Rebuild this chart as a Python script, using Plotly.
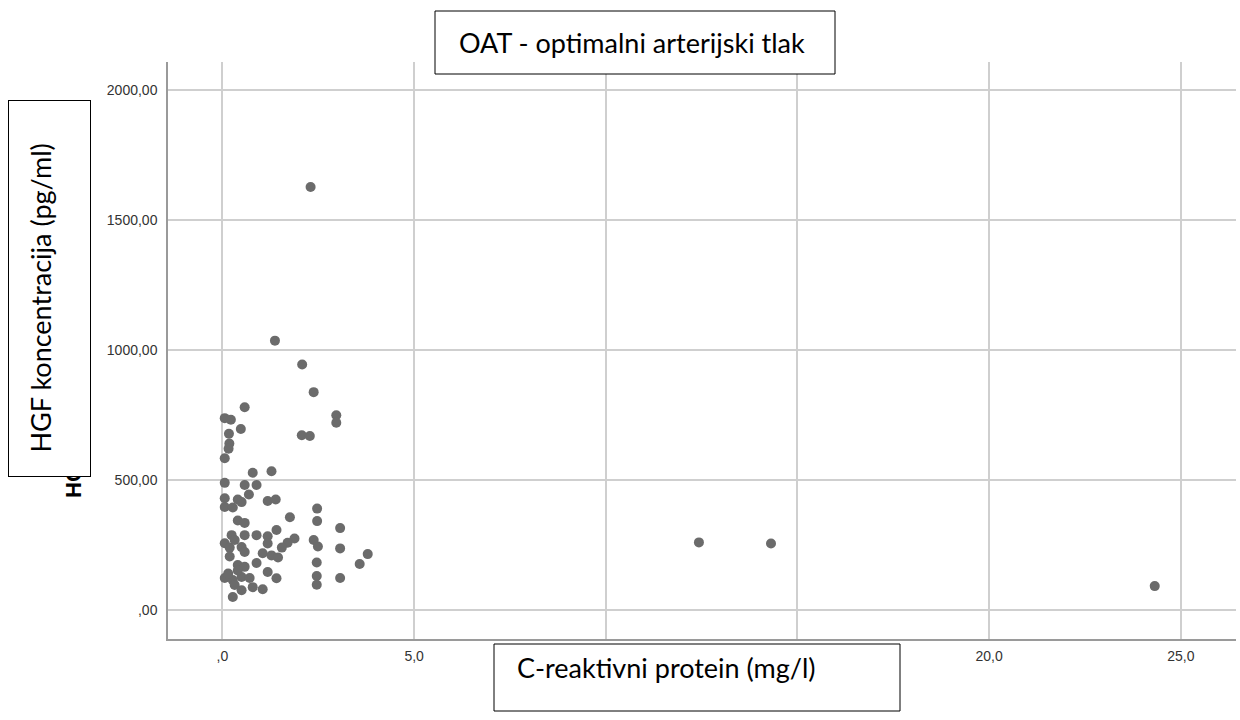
import plotly.graph_objects as go

# C-reaktivni protein (mg/l) vs HGF koncentracija (pg/ml), group OAT
crp = [
    2.30, 1.37, 2.08, 2.38, 0.58, 0.06, 0.22, 0.48, 2.97, 2.97,
    2.07, 2.28, 0.17, 0.18, 0.16, 0.06, 0.79, 1.28, 0.06, 0.58,
    0.89, 0.69, 0.06, 0.40, 0.50, 1.18, 1.39, 2.47, 0.06, 0.27,
    2.47, 1.76, 3.07, 0.40, 0.58, 1.41, 0.24, 0.58, 0.89, 1.18,
    1.88, 1.70, 1.55, 2.38, 2.49, 3.07, 1.18, 0.06, 0.19, 0.32,
    0.50, 0.58, 0.19, 1.05, 1.28, 1.45, 3.79, 3.58, 2.46, 0.89,
    0.40, 0.58, 1.18, 1.41, 0.06, 0.27, 0.50, 0.71, 2.46, 2.46,
    3.07, 0.32, 0.79, 1.05, 0.50, 0.27, 0.15, 0.40, 12.43, 14.31,
    24.32,
]
hgf = [
    1627, 1036, 944, 838, 780, 738, 732, 696, 749, 720,
    672, 669, 678, 640, 620, 584, 528, 534, 489, 481,
    481, 444, 430, 425, 415, 419, 425, 390, 396, 394,
    342, 357, 315, 344, 335, 308, 288, 288, 288, 284,
    275, 259, 240, 269, 244, 237, 256, 257, 240, 269,
    242, 223, 206, 218, 210, 202, 215, 177, 183, 181,
    173, 166, 146, 122, 123, 115, 127, 123, 131, 97,
    123, 96, 88, 80, 76, 50, 140, 152, 260, 256,
    92,
]

x_ticks = [0, 5, 10, 15, 20, 25]
# 10,0 and 15,0 sit under the x label box in the original, so they show nothing
x_tick_text = [',0', '5,0', '', '', '20,0', '25,0']
y_ticks = [0, 500, 1000, 1500, 2000]
y_tick_text = [',00', '500,00', '1000,00', '1500,00', '2000,00']

title_text = 'OAT - optimalni arterijski tlak'
x_label = 'C-reaktivni protein (mg/l)'
y_label = 'HGF koncentracija (pg/ml)'

W, H = 1240, 720
L, R, T, B = 168, 4, 62, 81


def px(x):
    # pixel column -> paper x
    return (x - L) / (W - L - R)


def py(y):
    # pixel row -> paper y
    return (H - B - y) / (H - T - B)


label_font = dict(family='Lato, Noto Sans, sans-serif', size=27, color='black')
tick_font = dict(family='Liberation Sans, Arial', size=14, color='#333')

fig = go.Figure()

fig.add_trace(
    go.Scatter(
        x=crp,
        y=hgf,
        mode='markers',
        marker=dict(color='#6b6b6b', size=10, line=dict(width=0)),
        showlegend=False,
        hoverinfo='x+y',
    )
)

fig.update_layout(
    width=W,
    height=H,
    margin=dict(l=L, r=R, t=T, b=B),
    paper_bgcolor='white',
    plot_bgcolor='white',
    xaxis=dict(
        range=[-1.42, 26.44],
        tickvals=x_ticks,
        ticktext=x_tick_text,
        showgrid=True,
        gridcolor='#cfcfcf',
        gridwidth=1.5,
        zeroline=False,
        showline=True,
        linecolor='#9a9a9a',
        linewidth=1.5,
        ticks='',
        ticklabelstandoff=3,
        tickfont=tick_font,
    ),
    yaxis=dict(
        range=[-111.5, 2107.7],
        tickvals=y_ticks,
        ticktext=y_tick_text,
        showgrid=True,
        gridcolor='#cfcfcf',
        gridwidth=1.5,
        zeroline=False,
        showline=True,
        linecolor='#9a9a9a',
        linewidth=1.5,
        ticks='',
        ticklabelstandoff=6,
        tickfont=tick_font,
    ),
    shapes=[
        # title box
        dict(type='rect', xref='paper', yref='paper',
             x0=px(435), x1=px(835), y0=py(74), y1=py(11),
             line=dict(color='black', width=1), fillcolor='white', layer='above'),
        # x label box
        dict(type='rect', xref='paper', yref='paper',
             x0=px(494), x1=px(900), y0=py(711), y1=py(644),
             line=dict(color='black', width=1), fillcolor='white', layer='above'),
    ],
    annotations=[
        # original bold axis title, mostly hidden behind the box
        dict(text='<b>' + y_label + '</b>', xref='paper', yref='paper',
             x=px(73), y=py(500), xanchor='center', yanchor='bottom',
             textangle=-90, showarrow=False,
             font=dict(family='Liberation Sans, Arial', size=22, color='black')),
        # y label box
        dict(text='&nbsp;', xref='paper', yref='paper',
             x=px(49.5), y=py(288.5), xanchor='center', yanchor='middle',
             width=81, height=375, showarrow=False,
             bgcolor='white', bordercolor='black', borderwidth=1, borderpad=0),
        dict(text=y_label, xref='paper', yref='paper',
             x=px(40), y=py(455), xanchor='center', yanchor='bottom',
             textangle=-90, showarrow=False, font=label_font),
        dict(text=title_text, xref='paper', yref='paper',
             x=px(457), y=py(42), xanchor='left', yanchor='middle',
             showarrow=False, font=label_font),
        dict(text=x_label, xref='paper', yref='paper',
             x=px(515), y=py(667), xanchor='left', yanchor='middle',
             showarrow=False, font=label_font),
    ],
)

# page body has a default 8px margin; drop it so the figure sits at 0,0
fig.write_html(
    'out.html',
    config={'displayModeBar': False},
    post_script="document.body.style.margin='0';",
)
